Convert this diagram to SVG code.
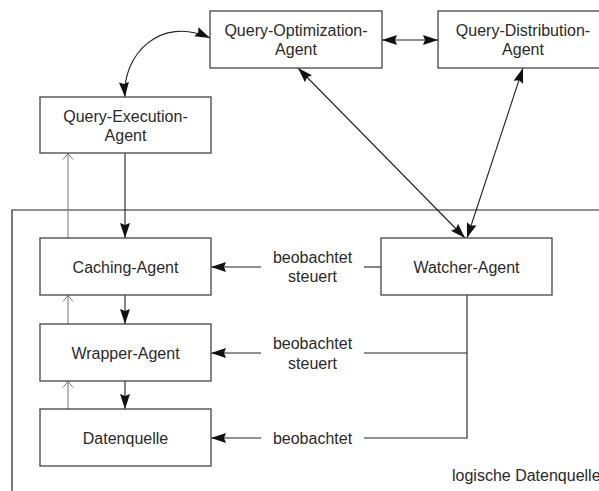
<svg xmlns="http://www.w3.org/2000/svg" width="599" height="491" viewBox="0 0 599 491">
<style>
.box{fill:#fff;stroke:#444;stroke-width:1.3}
.t{font-family:"Liberation Sans",Arial,sans-serif;font-size:16px;fill:#2a2a2a;text-anchor:middle}
.c{fill:none;stroke:#222;stroke-width:1.1}
.g{fill:none;stroke:#777;stroke-width:1}
.f{fill:none;stroke:#222;stroke-width:1.2}
</style>
<defs>
<marker id="ah" markerUnits="userSpaceOnUse" markerWidth="15" markerHeight="11" refX="15" refY="5.5" orient="auto-start-reverse">
<path d="M0,0.5 L15,5.5 L0,10.5 L2,5.5 z" fill="#111"/>
</marker>
<marker id="oh" markerUnits="userSpaceOnUse" markerWidth="12" markerHeight="12" refX="6" refY="1" orient="0">
<path d="M1,7 L6,1 L11,7" fill="none" stroke="#777" stroke-width="1"/>
</marker>
</defs>
<g id="frame">
<path class="f" d="M12,491 L12,210 L599,210"/>
<text class="t" x="452" y="481" style="text-anchor:start">logische Datenquelle</text>
</g>
<g id="connectors">
<path class="c" d="M125,97 C122,55 160,15 210,38" marker-start="url(#ah)" marker-end="url(#ah)"/>
<line class="c" x1="382" y1="40" x2="438" y2="40" marker-start="url(#ah)" marker-end="url(#ah)"/>
<line class="c" x1="298" y1="68" x2="465" y2="238" marker-start="url(#ah)" marker-end="url(#ah)"/>
<line class="c" x1="523" y1="68" x2="467" y2="238" marker-start="url(#ah)" marker-end="url(#ah)"/>
<line class="c" x1="125" y1="153" x2="125" y2="238" marker-end="url(#ah)"/>
<line class="c" x1="125" y1="295" x2="125" y2="324" marker-end="url(#ah)"/>
<line class="c" x1="125" y1="381" x2="125" y2="409" marker-end="url(#ah)"/>
<line class="g" x1="68" y1="238" x2="68" y2="153.5" marker-end="url(#oh)"/>
<line class="g" x1="68" y1="324" x2="68" y2="295.5" marker-end="url(#oh)"/>
<line class="g" x1="68" y1="409" x2="68" y2="381.5" marker-end="url(#oh)"/>
<line class="c" x1="261" y1="267" x2="211" y2="267" marker-end="url(#ah)"/>
<line class="c" x1="261" y1="353" x2="211" y2="353" marker-end="url(#ah)"/>
<line class="c" x1="261" y1="438" x2="211" y2="438" marker-end="url(#ah)"/>
<path class="c" d="M364,267 L381,267"/>
<path class="c" d="M467,295 L467,438 L364,438 M467,353 L364,353"/>
<text class="t" x="312.5" y="262.5">beobachtet</text>
<text class="t" x="312.5" y="282">steuert</text>
<text class="t" x="312.5" y="349">beobachtet</text>
<text class="t" x="312.5" y="368.5">steuert</text>
<text class="t" x="312.5" y="443.5">beobachtet</text>
</g>
<g id="query-optimization">
<rect class="box" x="210" y="11" width="172" height="57"/>
<text class="t" x="296" y="35.5">Query-Optimization-</text>
<text class="t" x="296" y="54.5">Agent</text>
</g>
<g id="query-distribution">
<rect class="box" x="438" y="11" width="171" height="57"/>
<text class="t" x="523" y="35.5">Query-Distribution-</text>
<text class="t" x="523" y="54.5">Agent</text>
</g>
<g id="query-execution">
<rect class="box" x="40" y="97" width="171" height="56"/>
<text class="t" x="125.5" y="121.5">Query-Execution-</text>
<text class="t" x="125.5" y="140.5">Agent</text>
</g>
<g id="caching-agent">
<rect class="box" x="40" y="238" width="171" height="57"/>
<text class="t" x="125.5" y="272.5">Caching-Agent</text>
</g>
<g id="wrapper-agent">
<rect class="box" x="40" y="324" width="171" height="57"/>
<text class="t" x="125.5" y="358.5">Wrapper-Agent</text>
</g>
<g id="datenquelle">
<rect class="box" x="40" y="409" width="171" height="57"/>
<text class="t" x="125.5" y="443.5">Datenquelle</text>
</g>
<g id="watcher-agent">
<rect class="box" x="381" y="238" width="171" height="57"/>
<text class="t" x="466.5" y="272.5">Watcher-Agent</text>
</g>
</svg>
